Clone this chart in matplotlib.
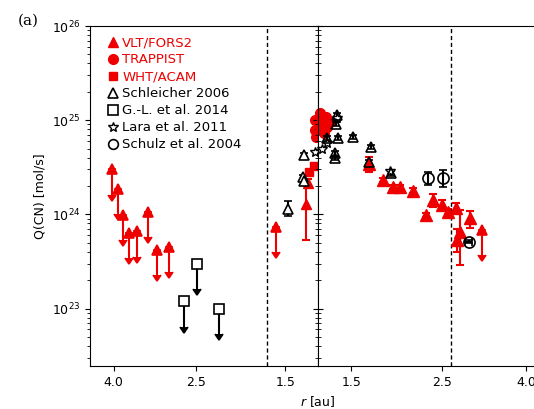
import numpy as np
import matplotlib.pyplot as plt
from matplotlib.lines import Line2D
from matplotlib.ticker import FormatStrFormatter, NullLocator

# perihelion distance (au), the two panels meet here
q_peri = 1.243
r_max = 4.58
arrow_dex = 0.27

# VLT/FORS2 -- pre-perihelion upper limits
r_vlt_pre_ul = np.array([4.05, 3.90, 3.80, 3.67, 3.51, 3.29, 3.12, 2.92, 1.58])
Q_vlt_pre_ul = np.array([3.0e24, 1.86e24, 9.9e23, 6.4e23, 6.6e23, 1.07e24, 4.2e23, 4.55e23, 7.4e23])
# VLT/FORS2 -- pre-perihelion detections
r_vlt_pre = np.array([1.333, 1.316])
Q_vlt_pre = np.array([1.29e24, 2.15e24])
Q_vlt_pre_lo = np.array([5.4e23, 1.95e24])
Q_vlt_pre_hi = np.array([2.05e24, 2.35e24])
# VLT/FORS2 -- post-perihelion detections
r_vlt_post = np.array([1.659, 1.794, 1.897, 1.97, 2.117, 2.276, 2.376, 2.50, 2.575, 2.70, 2.92, 2.76, 2.71])
Q_vlt_post = np.array([3.42e24, 2.32e24, 1.94e24, 1.94e24, 1.79e24, 9.9e23, 1.42e24,
                       1.26e24, 1.07e24, 1.16e24, 9.1e23, 6.5e23, 5.4e23])
Q_vlt_post_lo = np.array([2.84e24, 2.2e24, 1.85e24, 1.85e24, 1.7e24, 9.4e23, 1.21e24,
                          1.12e24, 1.01e24, 1.04e24, 7.1e23, 2.9e23, 4.0e23])
Q_vlt_post_hi = np.array([4.08e24, 2.45e24, 2.05e24, 2.05e24, 1.9e24, 1.04e24, 1.65e24,
                          1.42e24, 1.13e24, 1.32e24, 1.09e24, 1.12e24, 7.0e23])
# VLT/FORS2 -- post-perihelion upper limit
r_vlt_post_ul = np.array([3.13])
Q_vlt_post_ul = np.array([6.9e23])

# TRAPPIST
r_trap_pre = np.array([1.264, 1.264, 1.257])
Q_trap_pre = np.array([1.0e25, 7.8e24, 6.6e24])
r_trap_post = np.array([1.257, 1.271, 1.264, 1.285, 1.307, 1.329, 1.300])
Q_trap_post = np.array([1.19e25, 1.0e25, 8.2e24, 7.3e24, 8.4e24, 9.5e24, 1.08e25])

# WHT/ACAM
r_wht_pre = np.array([1.272, 1.309])
Q_wht_pre = np.array([3.26e24, 2.82e24])

# Schleicher 2006
r_sch_pre = np.array([1.477, 1.35, 1.354, 1.343])
Q_sch_pre = np.array([1.14e24, 4.26e24, 2.5e24, 2.26e24])
Q_sch_pre_lo = np.array([9.5e23, 4.0e24, 2.35e24, 2.12e24])
Q_sch_pre_hi = np.array([1.38e24, 4.5e24, 2.65e24, 2.4e24])
r_sch_post = np.array([1.38, 1.373, 1.305, 1.388, 1.517, 1.368, 1.368, 1.675, 1.659, 1.874])
Q_sch_post = np.array([1.13e25, 9.1e24, 6.45e24, 6.45e24, 6.66e24, 4.47e24, 3.96e24,
                       5.2e24, 3.6e24, 2.73e24])
Q_sch_post_lo = np.array([1.07e25, 8.6e24, 6.1e24, 6.1e24, 6.3e24, 4.2e24, 3.75e24,
                          4.9e24, 3.4e24, 2.58e24])
Q_sch_post_hi = np.array([1.19e25, 9.6e24, 6.8e24, 6.8e24, 7.0e24, 4.7e24, 4.2e24,
                          5.5e24, 3.8e24, 2.9e24])

# Gonzalez-Lopez et al. 2014, upper limits
r_gl_pre = np.array([2.48, 2.68, 2.19])
Q_gl_pre = np.array([3.0e23, 1.19e23, 1.0e23])

# Lara et al. 2011
r_lara_pre = np.array([1.264])
Q_lara_pre = np.array([4.6e24])
r_lara_post = np.array([1.27, 1.31, 1.863, 1.38])
Q_lara_post = np.array([5.0e24, 5.7e24, 2.88e24, 1.05e25])

# Schulz et al. 2004
r_schulz_post = np.array([2.31, 2.505, 2.90])
Q_schulz_post = np.array([2.42e24, 2.45e24, 5.15e23])
Q_schulz_lo = np.array([2.05e24, 1.97e24, 5.0e23])
Q_schulz_hi = np.array([2.85e24, 2.95e24, 5.3e23])
r_schulz_xerr = np.array([0.0, 0.0, 0.06])

fig = plt.figure(figsize=(5.34, 4.09), dpi=100)
ax1 = fig.add_axes([90/534, 43/409, 228/534, 340/409])
ax2 = fig.add_axes([318/534, 43/409, 232/534, 340/409])

red = '#ee0000'
ebkw = dict(capsize=3, elinewidth=1.5, capthick=1.5, linestyle='none')


def uplim(ax, r, Q, color, marker, mfc):
    err = Q * (1 - 10**-arrow_dex)
    ax.errorbar(r, Q, yerr=err, uplims=True, fmt=marker, color=color, mfc=mfc,
                mec=color, ms=7, mew=1.2, **ebkw)


# left panel: before perihelion
uplim(ax1, r_vlt_pre_ul, Q_vlt_pre_ul, red, '^', red)
uplim(ax1, r_gl_pre, Q_gl_pre, 'k', 's', 'white')
ax1.errorbar(r_vlt_pre, Q_vlt_pre, yerr=[Q_vlt_pre - Q_vlt_pre_lo, Q_vlt_pre_hi - Q_vlt_pre],
             fmt='^', color=red, ms=7, **ebkw)
ax1.errorbar(r_sch_pre, Q_sch_pre, yerr=[Q_sch_pre - Q_sch_pre_lo, Q_sch_pre_hi - Q_sch_pre],
             fmt='^', color='k', mfc='white', ms=7, mew=1.2, **ebkw)
ax1.plot(r_wht_pre, Q_wht_pre, 's', color=red, ms=6, clip_on=False)
ax1.plot(r_trap_pre, Q_trap_pre, 'o', color=red, ms=7)
ax1.plot(r_lara_pre, Q_lara_pre, '*', color='k', mfc='white', ms=7, clip_on=False)

# right panel: after perihelion
ax2.errorbar(r_vlt_post, Q_vlt_post, yerr=[Q_vlt_post - Q_vlt_post_lo, Q_vlt_post_hi - Q_vlt_post],
             fmt='^', color=red, ms=8, **ebkw)
uplim(ax2, r_vlt_post_ul, Q_vlt_post_ul, red, '^', red)
ax2.plot(r_trap_post, Q_trap_post, 'o', color=red, ms=7, clip_on=False)
ax2.errorbar(r_sch_post, Q_sch_post, yerr=[Q_sch_post - Q_sch_post_lo, Q_sch_post_hi - Q_sch_post],
             fmt='^', color='k', mfc='none', ms=7, mew=1.2, **ebkw)
ax2.plot(r_lara_post, Q_lara_post, '*', color='k', mfc='white', ms=7, clip_on=False)
ax2.errorbar(r_schulz_post, Q_schulz_post, xerr=r_schulz_xerr,
             yerr=[Q_schulz_post - Q_schulz_lo, Q_schulz_hi - Q_schulz_post],
             fmt='o', color='k', mfc='none', ms=8, mew=1.2, **ebkw)

ax1.axvline(1.66, color='k', ls=(0, (3, 2)), lw=1)
ax2.axvline(2.62, color='k', ls=(0, (3, 2)), lw=1)

for ax in (ax1, ax2):
    ax.set_xscale('log')
    ax.set_yscale('log')
    ax.set_ylim(10**22.39, 1e26)
    ax.set_xticks([1.5, 2.5, 4.0])
    ax.xaxis.set_major_formatter(FormatStrFormatter('%.1f'))
    ax.xaxis.set_minor_locator(NullLocator())
    ax.tick_params(labelsize=9)

ax1.set_xlim(r_max, q_peri)
ax2.set_xlim(q_peri, r_max)
ax2.spines['right'].set_visible(False)
ax2.tick_params(axis='y', which='both', direction='inout', labelleft=False)
ax2.tick_params(axis='y', which='major', length=7)
ax2.tick_params(axis='y', which='minor', length=4)

ax1.set_ylabel('Q(CN) [mol/s]', fontsize=9)
fig.text(318/534, 1 - 402/409, '$r$ [au]', ha='center', va='center', fontsize=9)
fig.text(18/534, 1 - 21/409, '(a)', ha='left', va='center', fontsize=11, family='DejaVu Serif')

handles = [
    Line2D([], [], ls='none', marker='^', color=red, ms=7),
    Line2D([], [], ls='none', marker='o', color=red, ms=7),
    Line2D([], [], ls='none', marker='s', color=red, ms=6),
    Line2D([], [], ls='none', marker='^', color='k', mfc='none', ms=7, mew=1.2),
    Line2D([], [], ls='none', marker='s', color='k', mfc='none', ms=7, mew=1.2),
    Line2D([], [], ls='none', marker='*', color='k', mfc='white', ms=7),
    Line2D([], [], ls='none', marker='o', color='k', mfc='none', ms=7, mew=1.2),
]
labels = ['VLT/FORS2', 'TRAPPIST', 'WHT/ACAM', 'Schleicher 2006',
          'G.-L. et al. 2014', 'Lara et al. 2011', 'Schulz et al. 2004']
leg = ax1.legend(handles, labels, loc='upper left', bbox_to_anchor=(0.055, 0.985),
                 frameon=False, fontsize=9.5, handlelength=0.8, handletextpad=0.3,
                 labelspacing=0.3, borderaxespad=0)
for txt, col in zip(leg.get_texts(), [red]*3 + ['k']*4):
    txt.set_color(col)

fig.savefig('out.png', dpi=100)
